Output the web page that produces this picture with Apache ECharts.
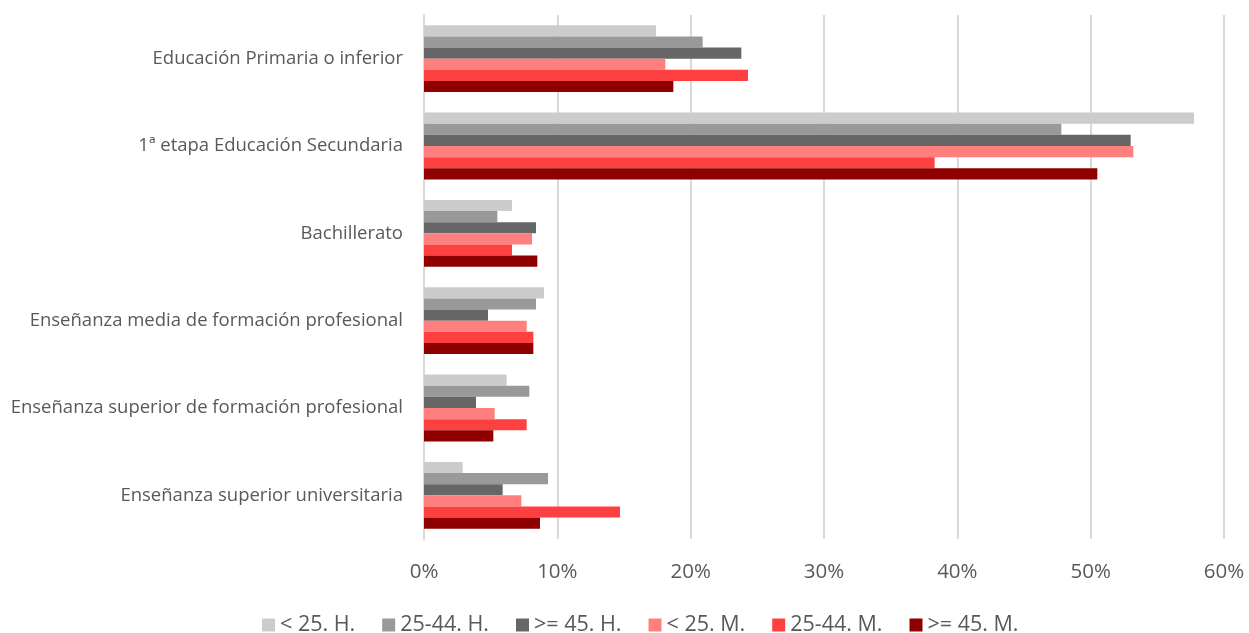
<!DOCTYPE html>
<html><head><meta charset="utf-8">
<script src="https://cdn.jsdelivr.net/npm/echarts@6/dist/echarts.min.js"></script>
<style>html,body{margin:0;padding:0;background:#fff}#c{width:1249px;height:633px}</style>
</head><body><div id="c"></div>
<script>
const categories = ["Educación Primaria o inferior","1ª etapa Educación Secundaria","Bachillerato","Enseñanza media de formación profesional","Enseñanza superior de formación profesional","Enseñanza superior universitaria"];
const seriesNames = ["< 25. H.","25-44. H.",">= 45. H.","< 25. M.","25-44. M.",">= 45. M."];
const lt25H = [17.4, 57.75, 6.6, 9.0, 6.2, 2.9];
const h25_44H = [20.9, 47.8, 5.5, 8.4, 7.9, 9.3];
const ge45H = [23.8, 53.0, 8.4, 4.8, 3.9, 5.9];
const lt25M = [18.1, 53.2, 8.1, 7.7, 5.3, 7.3];
const h25_44M = [24.3, 38.3, 6.6, 8.2, 7.7, 14.7];
const ge45M = [18.7, 50.5, 8.5, 8.2, 5.2, 8.7];
const xTicks = [0,10,20,30,40,50,60];
const colors = ["#cccccc","#999999","#666666","#ff7f7f","#ff4040","#8f0000"];
const values = [lt25H,h25_44H,ge45H,lt25M,h25_44M,ge45M];
const font = "Open Sans";
const chart = echarts.init(document.getElementById('c'));
chart.setOption({
  animation:false,
  color: colors,
  grid:{left:424,right:25,top:15,bottom:94,containLabel:false},
  legend:{top:609,left:257,itemWidth:13,itemHeight:13,itemGap:27,icon:'rect',
    textStyle:{fontFamily:font,fontSize:21.5,color:'#595959'},data:seriesNames},
  xAxis:{type:'value',min:xTicks[0],max:xTicks[xTicks.length-1],interval:10,
    axisLine:{show:false},axisTick:{show:false},
    axisLabel:{formatter:v=>v+'%',fontFamily:font,fontSize:20.5,color:'#595959',margin:23},
    splitLine:{lineStyle:{color:'#d9d9d9',width:2}}},
  yAxis:{type:'category',data:categories,inverse:true,
    axisLine:{show:true,lineStyle:{color:'#d9d9d9',width:2}},axisTick:{show:false},
    axisLabel:{fontFamily:font,fontSize:18.5,color:'#595959',margin:21}},
  series: seriesNames.map((n,i)=>({name:n,type:'bar',data:values[i],barGap:'0%',barCategoryGap:'23.5%',
    itemStyle:{color:colors[i]}}))
});
</script></body></html>
